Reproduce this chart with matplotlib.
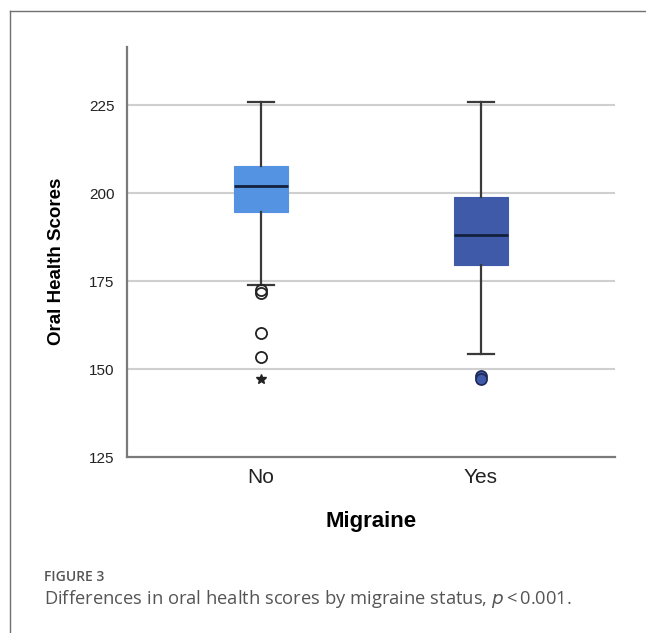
import matplotlib
matplotlib.use("Agg")
import matplotlib.pyplot as plt
from matplotlib.lines import Line2D

# summary values for the two groups
groups = ["No", "Yes"]
whislo = [174.0, 154.3]
q1 = [194.6, 179.5]
med = [202.0, 188.0]
q3 = [207.7, 198.9]
whishi = [226.0, 226.0]
outliers_circle = [[172.4, 171.6, 160.2, 153.4], [148.0, 147.3]]
outliers_star = [[147.3], []]
box_colors = ["#5393e2", "#3e5aa9"]
yticks = [125, 150, 175, 200, 225]

fig = plt.figure(figsize=(6.46, 6.33), dpi=100)
fig.patch.set_facecolor("white")

# thin frame around the figure panel
fy = 1 - 11 / 633
fx = 10 / 646
fig.add_artist(Line2D([fx, 1.0], [fy, fy], transform=fig.transFigure,
                      color="#707070", lw=1.0))
fig.add_artist(Line2D([fx, fx], [0.0, fy], transform=fig.transFigure,
                      color="#707070", lw=1.0))

ax = fig.add_axes([127 / 646, 176 / 633, 488 / 646, 410 / 633])

stats = []
for i, g in enumerate(groups):
    stats.append(dict(label=g, whislo=whislo[i], q1=q1[i], med=med[i],
                      q3=q3[i], whishi=whishi[i], fliers=[]))

bp = ax.bxp(stats, positions=[1, 2], widths=0.245, patch_artist=True,
            showfliers=False,
            boxprops=dict(linewidth=0.8),
            medianprops=dict(color="#14213d", linewidth=2.0),
            whiskerprops=dict(color="#3a3a3a", linewidth=1.6),
            capprops=dict(color="#3a3a3a", linewidth=1.6),
            capwidths=0.115)
for patch, c in zip(bp["boxes"], box_colors):
    patch.set_facecolor(c)
    patch.set_edgecolor(c)

# extreme values
ax.plot([1] * len(outliers_circle[0]), outliers_circle[0], "o", ms=8,
        mfc="none", mec="#222222", mew=1.3, zorder=3)
ax.plot([1] * len(outliers_star[0]), outliers_star[0], "*", ms=7,
        color="#222222", zorder=3)
ax.plot([2] * len(outliers_circle[1]), outliers_circle[1], "o", ms=8,
        mfc="#3e5aa9", mec="#1d2a55", mew=1.2, zorder=3)

ax.set_xlim(0.391, 2.609)
ax.set_ylim(125, 241.6)
ax.set_yticks(yticks)
ax.set_yticklabels([str(t) for t in yticks], fontsize=11,
                   family="Liberation Sans", color="#222222")
ax.set_xticks([1, 2])
ax.set_xticklabels(groups, fontsize=15, family="Liberation Sans",
                   color="#222222")
ax.tick_params(axis="both", length=0)
ax.tick_params(axis="y", pad=9)
ax.tick_params(axis="x", pad=8)

for yv in yticks[1:]:
    ax.axhline(yv, color="#cfcfcf", lw=1.5, zorder=0)

for s in ["top", "right"]:
    ax.spines[s].set_visible(False)
for s in ["left", "bottom"]:
    ax.spines[s].set_color("#7a7a7a")
    ax.spines[s].set_linewidth(1.6)

ax.set_ylabel("Oral Health Scores", fontsize=13.5, fontweight="bold",
              family="Liberation Sans")
ax.yaxis.set_label_coords(-0.127, 0.478)
ax.set_xlabel("Migraine", fontsize=16, fontweight="bold",
              family="Liberation Sans", labelpad=17)

# caption
fig.text(44 / 646, 1 - 577 / 633, "FIGURE 3", fontsize=10,
         fontweight="semibold", family="Open Sans", color="#555555",
         va="center")
fig.text(44 / 646, 1 - 599 / 633,
         r"Differences in oral health scores by migraine status, $\it{p}$$\,$<$\,$0.001.",
         fontsize=13.2, family="Open Sans", color="#555555", va="center")

fig.savefig("out.png", dpi=100)
